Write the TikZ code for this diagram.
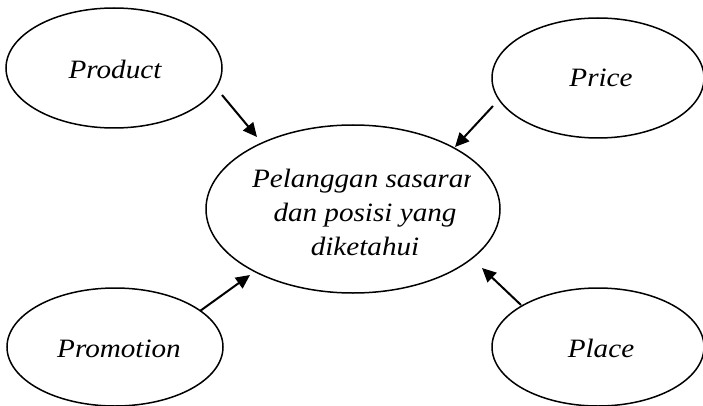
\documentclass[tikz,border=0pt]{standalone}
\usepackage{fontspec}
\setmainfont{Liberation Serif}[ItalicFeatures={FakeStretch=1.1}]
\usetikzlibrary{shapes.geometric,arrows.meta}
\begin{document}
\begin{tikzpicture}[x=1pt,y=-1pt,
  mix/.style={ellipse,draw,line width=1.5pt,inner sep=0pt},
  lbl/.style={font=\fontsize{26.5}{34}\selectfont\itshape},
  feed/.style={line width=2pt,-{Triangle[length=14pt,width=13pt]}}]
\useasboundingbox (0,0) rectangle (703,406);
\clip (0,0) rectangle (703,406);
% the four marketing-mix ellipses
\node[mix,minimum width=216pt,minimum height=120pt] (product) at (114,68) {};
\node[mix,minimum width=212pt,minimum height=120pt] (price) at (598,78) {};
\node[mix,minimum width=216pt,minimum height=118pt] (promotion) at (115,347) {};
\node[mix,minimum width=212pt,minimum height=118pt] (place) at (598,347) {};
% central target ellipse
\node[mix,minimum width=294pt,minimum height=168pt] (target) at (353,209) {};
% labels
\node[lbl] (tproduct) at (115,69) {Product};
\node[lbl] (tprice) at (601,78) {Price};
\node[lbl] (tpromotion) at (119,349) {Promotion};
\node[lbl] (tplace) at (601,348) {Place};
\begin{scope}
  \clip (200,120) rectangle (470,300);
  \node[lbl,align=center] (ttarget) at (365,212)
    {Pelanggan sasaran\\dan posisi yang\\diketahui};
\end{scope}
% arrow end points
\coordinate (p1) at (222,95);  \coordinate (p2) at (257,137);
\coordinate (r1) at (493,106); \coordinate (r2) at (455,147);
\coordinate (m1) at (200,311); \coordinate (m2) at (250,275);
\coordinate (l1) at (521,305); \coordinate (l2) at (482,268);
\draw[feed] (p1) -- (p2);
\draw[feed] (r1) -- (r2);
\draw[feed] (m1) -- (m2);
\draw[feed] (l1) -- (l2);
\end{tikzpicture}
\end{document}
